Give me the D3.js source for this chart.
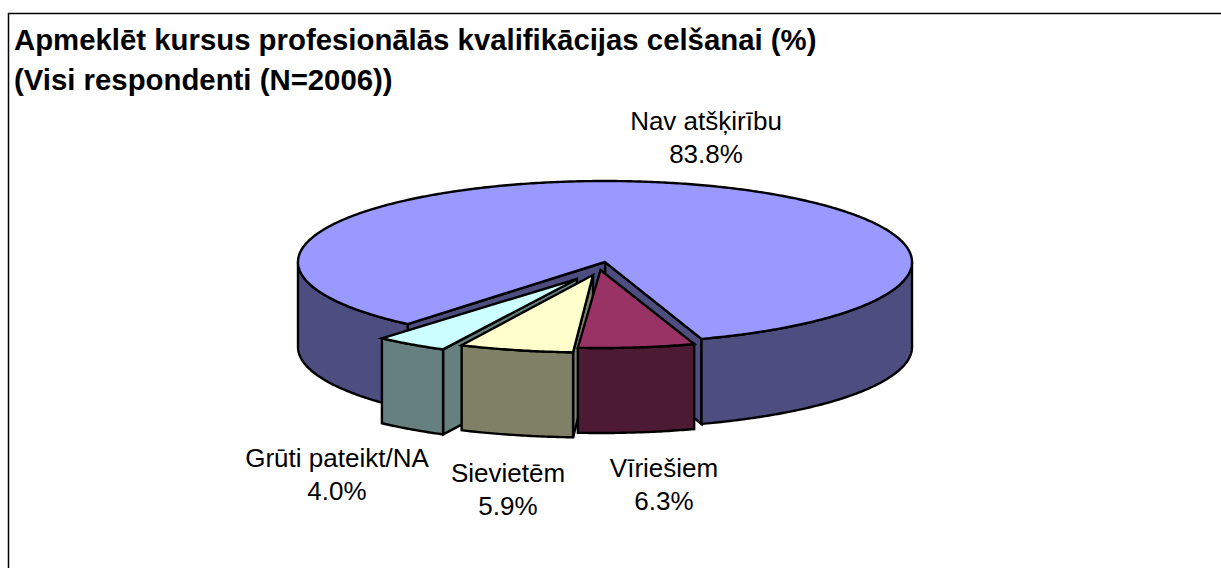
<!DOCTYPE html>
<html><head><meta charset="utf-8">
<style>html,body{margin:0;padding:0;background:#fff}svg{display:block}text{font-family:"Liberation Sans",Arial,sans-serif;fill:#000}</style>
<script src="https://cdn.jsdelivr.net/npm/d3@7"></script></head>
<body><div id="c"></div>
<script>
const titleLines = ["Apmeklēt kursus profesionālās kvalifikācijas celšanai (%)", "(Visi respondenti (N=2006))"];
const categories = ["Nav atšķirību", "Vīriešiem", "Sievietēm", "Grūti pateikt/NA"];
const values = [83.8, 6.3, 5.9, 4.0];
const topColors = ["#9999FF", "#993366", "#FFFFCC", "#CCFFFF"];
const wallColors = ["#4D4D80", "#4D1A33", "#808066", "#668080"];
const W = 1221, H = 568;
const svg = d3.select("#c").append("svg").attr("width", W).attr("height", H);
svg.append("rect").attr("x", 8.5).attr("y", 13.5).attr("width", 1300).attr("height", 700).attr("fill", "#fff").attr("stroke", "#000").attr("stroke-width", 1.5);
svg.selectAll("text.t").data(titleLines).join("text").attr("class", "t")
  .attr("x", 14).attr("y", (d, i) => 50 + i * 40).attr("font-size", 29.35).attr("font-weight", "bold").text(d => d);

const depth = 85;
const deg = Math.PI / 180;
const pie = d3.pie().sort(null).startAngle(220 * deg).endAngle((220 + 360) * deg);
const arcs = pie(values);
// centre, radii and small turn of each exploded piece, same order as categories
const layout = [
  {cx: 605, cy: 262, rx: 307, ry: 81, turn: 0},
  {cx: 600.5, cy: 270, rx: 298, ry: 78, turn: 0},
  {cx: 593, cy: 275, rx: 312, ry: 77.5, turn: -0.7 * deg},
  {cx: 577, cy: 279, rx: 295, ry: 79, turn: 1.4 * deg}
];
const pt = (g, a, dz = 0) => [g.cx + g.rx * Math.sin(a + g.turn), g.cy - g.ry * Math.cos(a + g.turn) + dz];
const line = d3.line();
const samples = (a0, a1) => { const n = Math.max(2, Math.ceil(Math.abs(a1 - a0) / 0.01)); return d3.range(n + 1).map(i => a0 + (a1 - a0) * i / n); };
function wallPath(g, a0, a1) {
  const s = samples(a0, a1);
  return line([...s.map(a => pt(g, a)), ...s.slice().reverse().map(a => pt(g, a, depth))]) + "Z";
}
function cutPath(g, a) {
  const c = [g.cx, g.cy], e = pt(g, a);
  return line([c, e, [e[0], e[1] + depth], [c[0], c[1] + depth]]) + "Z";
}
function topPath(g, a0, a1) {
  return line([[g.cx, g.cy], ...samples(a0, a1).map(a => pt(g, a))]) + "Z";
}
const sw = 2.4;
function piece(i, parts) {
  const gr = svg.append("g").attr("stroke", "#000").attr("stroke-width", sw).attr("stroke-linejoin", "miter").attr("stroke-miterlimit", 5);
  const g = layout[i], A = arcs[i];
  parts.forEach(p => gr.append("path").attr("d", p(g, A)).attr("fill", wallColors[i]));
  gr.append("path").attr("d", topPath(g, A.startAngle, A.endAngle)).attr("fill", topColors[i]);
}
const PI = Math.PI;
// main slice: cut faces, then the two visible runs of outer wall, then its top
piece(0, [
  (g, A) => cutPath(g, A.endAngle),
  (g, A) => cutPath(g, A.startAngle),
  (g, A) => wallPath(g, A.startAngle, 1.5 * PI),
  (g, A) => wallPath(g, 2.5 * PI, A.endAngle)
]);
piece(3, [(g, A) => cutPath(g, A.startAngle), (g, A) => wallPath(g, A.startAngle, A.endAngle)]);
piece(2, [(g, A) => cutPath(g, A.startAngle), (g, A) => wallPath(g, A.startAngle, A.endAngle)]);
piece(1, [(g, A) => wallPath(g, A.startAngle, A.endAngle)]);

const labelAt = [[706, 129.5], [664, 477], [508, 482], [337, 467]];
const fmt = d3.format(".1f");
categories.forEach((c, i) => {
  const t = svg.append("text").attr("text-anchor", "middle").attr("font-size", 26);
  t.append("tspan").attr("x", labelAt[i][0]).attr("y", labelAt[i][1]).text(c);
  t.append("tspan").attr("x", labelAt[i][0]).attr("y", labelAt[i][1] + 33).text(fmt(values[i]) + "%");
});
</script></body></html>
